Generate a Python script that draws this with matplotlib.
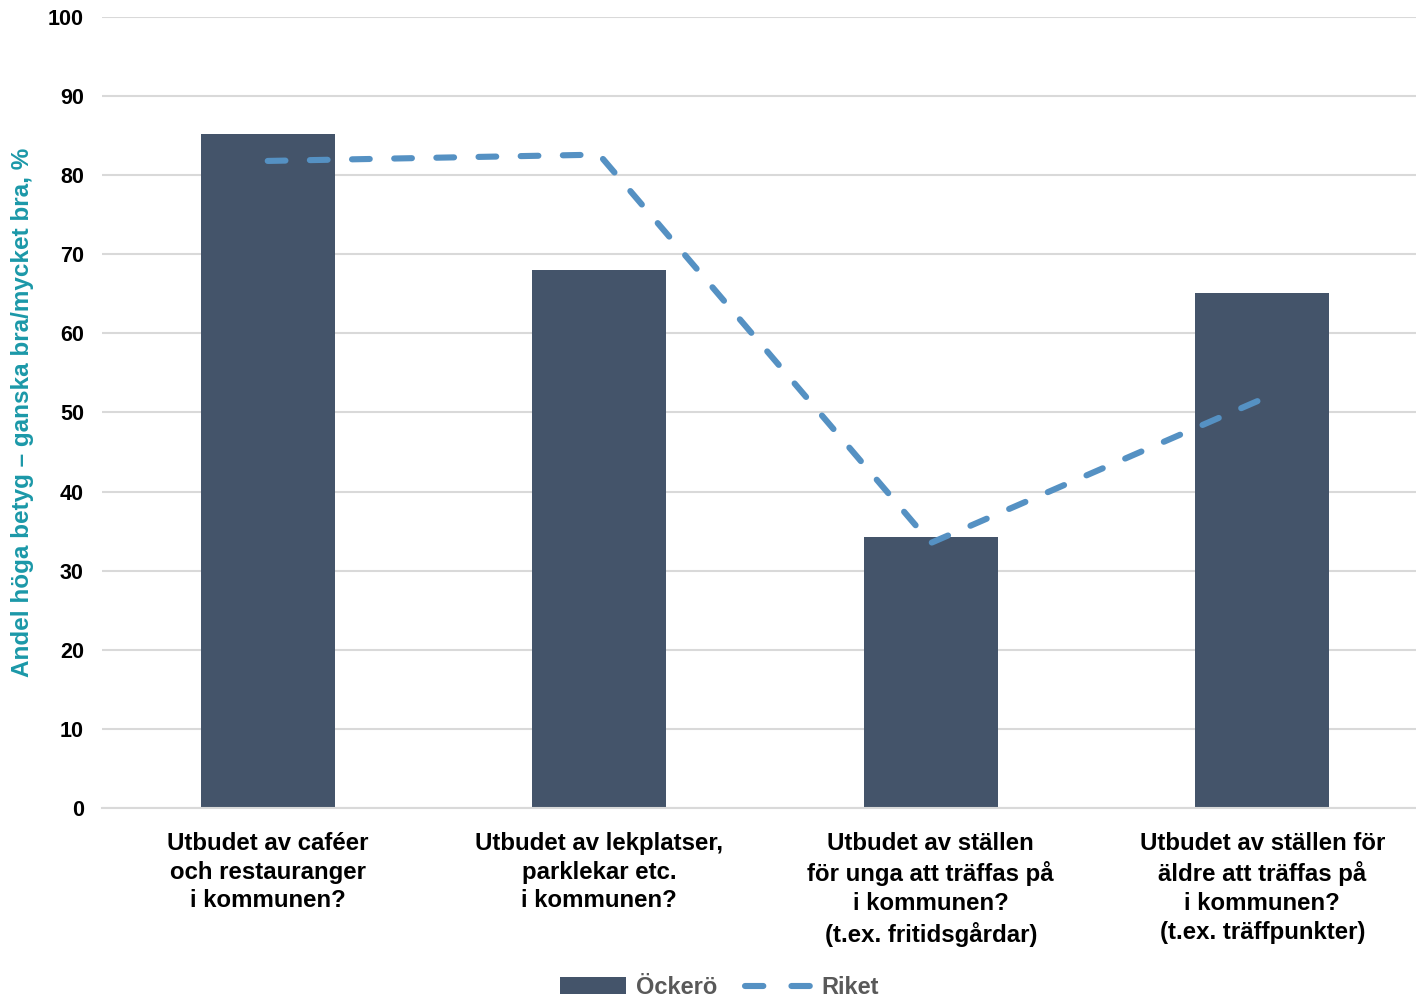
import numpy as np
import matplotlib.pyplot as plt
from matplotlib.lines import Line2D

categories = ['Utbudet av caféer\noch restauranger\ni kommunen?',
              'Utbudet av lekplatser,\nparklekar etc.\ni kommunen?',
              'Utbudet av ställen\nför unga att träffas på\ni kommunen?\n(t.ex. fritidsgårdar)',
              'Utbudet av ställen för\näldre att träffas på\ni kommunen?\n(t.ex. träffpunkter)']
ockero = [85.2, 68.0, 34.3, 65.1]
riket = [81.8, 82.6, 33.5, 51.7]

plt.rcParams['font.family'] = ['Liberation Sans', 'DejaVu Sans']

fig = plt.figure(figsize=(14.16, 9.98), dpi=100)
ax = fig.add_axes([0.072, 0.1904, 0.9365, 0.7926])

x = np.arange(len(categories))
bars = ax.bar(x, ockero, width=0.405, color='#44546A', label='Öckerö', zorder=2)
ax.plot(x, riket, color='#5591C3', lw=4.4, dashes=(2.9, 4.0), dash_capstyle='round',
        label='Riket', zorder=3)

ax.set_xlim(-0.5, 3.5)
ax.set_ylim(0, 100)
ax.yaxis.grid(True, color='#D9D9D9', lw=1.5, zorder=0)
for s in ['top', 'right', 'left']:
    ax.spines[s].set_visible(False)
ax.spines['bottom'].set_color('#D9D9D9')
ax.spines['bottom'].set_linewidth(1.5)
ax.tick_params(axis='both', length=0)
ax.tick_params(axis='y', pad=13)
ax.tick_params(axis='x', pad=17)
ax.set_yticks(range(0, 101, 10))
ax.set_yticklabels([str(v) for v in range(0, 101, 10)], fontsize=15.5, fontweight='bold')
ax.set_xticks(x)
ax.set_xticklabels(categories, fontsize=17.3, fontweight='bold', linespacing=1.33)
ax.set_ylabel('Andel höga betyg – ganska bra/mycket bra, %', color='#1B98A8',
              fontsize=17.5, fontweight='bold', labelpad=10)

line_proxy = Line2D([], [], color='#5591C3', lw=4.4, dashes=(3.0, 4.6),
                    dash_capstyle='round')
leg = fig.legend([bars, line_proxy], ['Öckerö', 'Riket'], loc='lower center',
                 bbox_to_anchor=(0.508, -0.015), ncol=2, frameon=False, borderpad=0.1,
                 fontsize=17, handlelength=2.8, columnspacing=1.2, handletextpad=0.4)
for t in leg.get_texts():
    t.set_color('#595959')
    t.set_fontweight('bold')

fig.savefig('out.png', dpi=100)
